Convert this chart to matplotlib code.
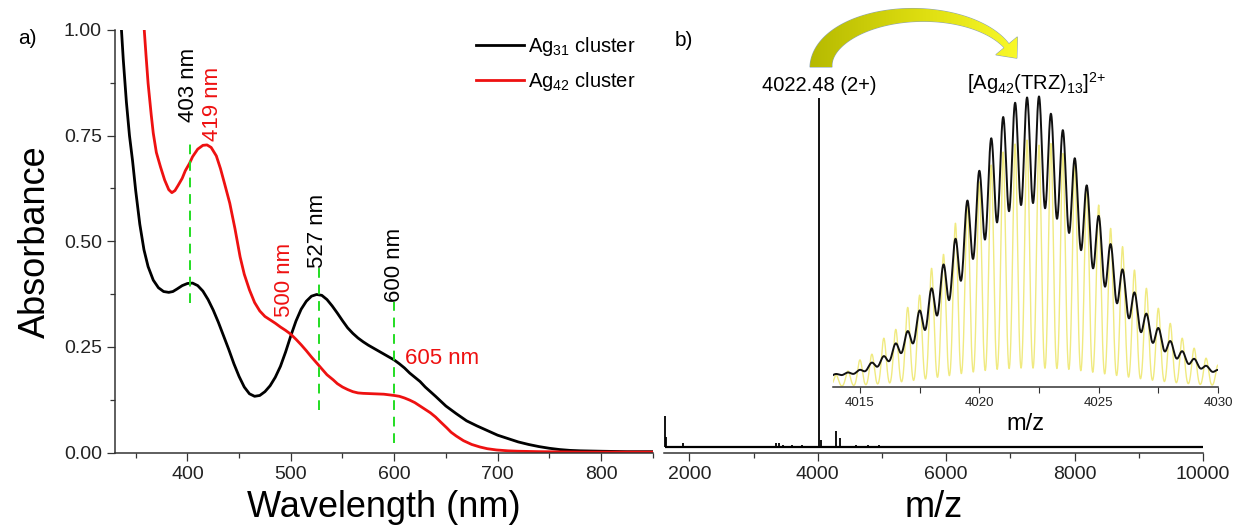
import numpy as np
import matplotlib
matplotlib.use("Agg")
import matplotlib.pyplot as plt
from matplotlib.ticker import MultipleLocator, FormatStrFormatter
from matplotlib.patches import Polygon
from matplotlib.colors import LinearSegmentedColormap

plt.rcParams['font.family'] = ['Liberation Sans', 'DejaVu Sans']
plt.rcParams['mathtext.fontset'] = 'custom'
plt.rcParams['mathtext.rm'] = 'Liberation Sans'
plt.rcParams['mathtext.it'] = 'Liberation Sans:italic'

# UV-vis absorption spectra (wavelength in nm, absorbance)
wl_ag31 = [336, 338, 341, 344, 347, 350, 354, 358, 362, 367, 372, 377, 382, 386,
           390, 395, 400, 405, 410, 415, 420, 425, 430, 435, 440, 445, 450, 455,
           460, 465, 470, 475, 480, 485, 490, 495, 500, 505, 510, 515, 520, 525,
           530, 535, 540, 545, 550, 555, 560, 565, 570, 575, 580, 585, 590, 595,
           600, 605, 610, 615, 620, 625, 630, 640, 650, 660, 670, 680, 690, 700,
           710, 720, 730, 740, 750, 760, 770, 780, 800, 825, 850]
abs_ag31 = [1.01, 0.93, 0.83, 0.75, 0.69, 0.62, 0.54, 0.48, 0.44, 0.408, 0.390,
            0.381, 0.379, 0.381, 0.387, 0.395, 0.400, 0.401, 0.395, 0.382, 0.362,
            0.337, 0.308, 0.276, 0.244, 0.210, 0.180, 0.155, 0.139, 0.133, 0.135,
            0.144, 0.158, 0.178, 0.204, 0.238, 0.276, 0.311, 0.339, 0.358, 0.370,
            0.374, 0.372, 0.362, 0.347, 0.330, 0.312, 0.295, 0.282, 0.271, 0.262,
            0.254, 0.247, 0.240, 0.233, 0.226, 0.219, 0.210, 0.200, 0.188, 0.178,
            0.168, 0.155, 0.133, 0.110, 0.092, 0.075, 0.063, 0.052, 0.041, 0.033,
            0.025, 0.019, 0.014, 0.010, 0.007, 0.005, 0.004, 0.003, 0.002, 0.002]

wl_ag42 = [358, 360, 362, 365, 367, 370, 374, 378, 382, 385, 388, 391, 395, 398,
           402, 405, 410, 415, 419, 423, 428, 432, 436, 441, 446, 451, 455, 460,
           465, 470, 475, 480, 485, 490, 495, 500, 505, 510, 515, 520, 525, 530,
           535, 541, 545, 550, 555, 560, 565, 570, 580, 590, 600, 605, 610, 615,
           620, 625, 630, 635, 640, 645, 651, 655, 660, 667, 675, 683, 690, 699,
           710, 720, 740, 780, 850]
abs_ag42 = [1.01, 0.94, 0.874, 0.80, 0.756, 0.71, 0.676, 0.645, 0.622, 0.615,
            0.620, 0.632, 0.649, 0.667, 0.684, 0.700, 0.718, 0.727, 0.728, 0.722,
            0.702, 0.672, 0.636, 0.590, 0.530, 0.463, 0.422, 0.385, 0.355, 0.335,
            0.322, 0.314, 0.306, 0.297, 0.289, 0.280, 0.268, 0.255, 0.241, 0.226,
            0.212, 0.198, 0.184, 0.172, 0.163, 0.155, 0.149, 0.144, 0.141, 0.140,
            0.139, 0.138, 0.135, 0.133, 0.129, 0.124, 0.118, 0.110, 0.102, 0.094,
            0.084, 0.072, 0.058, 0.048, 0.039, 0.028, 0.019, 0.013, 0.009, 0.006,
            0.004, 0.003, 0.002, 0.001, 0.001]

# marked band positions and the extent of their dashed guide lines
marks_wl = [403, 527, 600]
marks_lo = [0.354, 0.100, 0.022]
marks_hi = [0.733, 0.436, 0.357]

# ESI mass spectrum, relative intensity (sticks on a flat baseline)
ms_base = 0.015
ms_mz = [1622, 1636, 1902, 2400, 2780, 3100, 3350, 3400, 3455, 3600, 3760,
         4022.48, 4045, 4285, 4351, 4600, 4790, 4950, 5200, 6450]
ms_int = [0.103, 0.045, 0.027, 0.019, 0.019, 0.019, 0.027, 0.028, 0.022, 0.022,
          0.020, 1.0, 0.035, 0.061, 0.042, 0.021, 0.021, 0.021, 0.018, 0.017]

# isotope pattern of [Ag42(TRZ)13]2+, peaks every 0.5 m/z
iso_mz = [4014.0 + 0.5 * i for i in range(33)]
iso_exp = [1.4, 1.9, 2.8, 5.3, 7.5, 11.9, 16.1, 23.2, 30.8, 39.0, 47.8, 61.0,
           71.2, 82.4, 89.7, 94.6, 96.4, 96.8, 90.8, 85.2, 75.5, 66.2, 55.7,
           46.0, 37.3, 29.4, 22.1, 17.2, 12.7, 9.2, 6.6, 4.2, 2.8]
iso_sim = [4.2, 5.6, 9.5, 11.5, 17.1, 20.2, 27.9, 32.2, 41.6, 46.5, 57.4, 64.4,
           71.9, 77.8, 82.4, 85.2, 86.6, 84.8, 85.4, 81.9, 77.8, 70.2, 63.8,
           55.6, 49.2, 41.0, 34.6, 27.6, 22.3, 17.1, 13.6, 10.1, 7.7]
exp_offset = 3.15

W, H = 1238, 525
fig = plt.figure(figsize=(W / 100, H / 100), dpi=100)


def px_axes(x0, y0, x1, y1, **kw):
    return fig.add_axes([x0 / W, 1 - y1 / H, (x1 - x0) / W, (y1 - y0) / H], **kw)


def style_spines(ax, sides):
    for s in ['left', 'right', 'top', 'bottom']:
        ax.spines[s].set_visible(s in sides)
        ax.spines[s].set_linewidth(1.1)
        ax.spines[s].set_color('#333333')


# ---- a) UV-vis ----
ax1 = px_axes(115, 30, 652.7, 452.5)
style_spines(ax1, ['left', 'bottom'])
ax1.plot(wl_ag31, abs_ag31, color='black', lw=2.0, label='Ag$_{31}$ cluster')
ax1.plot(wl_ag42, abs_ag42, color='#ee1111', lw=2.0, label='Ag$_{42}$ cluster')
ax1.vlines(marks_wl, marks_lo, marks_hi, colors='#22dd22', linestyles=(0, (5, 3.5)), lw=1.4)
ax1.set_xlim(330, 850)
ax1.set_ylim(0, 1.0)
ax1.xaxis.set_major_locator(MultipleLocator(100))
ax1.xaxis.set_minor_locator(MultipleLocator(50))
ax1.yaxis.set_major_locator(MultipleLocator(0.25))
ax1.yaxis.set_minor_locator(MultipleLocator(0.125))
ax1.yaxis.set_major_formatter(FormatStrFormatter('%.2f'))
ax1.tick_params(which='major', length=6, width=0.9, labelsize=14, color='#333333',
                labelcolor='#222222')
ax1.tick_params(which='minor', length=3.5, width=0.9, color='#333333')
ax1.set_xlabel('Wavelength (nm)', fontsize=26, labelpad=5)
ax1.set_ylabel('Absorbance', fontsize=26, labelpad=8)

txt = dict(fontsize=16, ha='center', va='center')
ax1.text(401, 0.870, '403 nm', rotation=90, color='black', **txt)
ax1.text(424.3, 0.824, '419 nm', rotation=90, color='#ee1111', **txt)
ax1.text(494.4, 0.408, '500 nm', rotation=90, color='#ee1111', **txt)
ax1.text(525.8, 0.524, '527 nm', rotation=90, color='black', **txt)
ax1.text(600.7, 0.444, '600 nm', rotation=90, color='black', **txt)
ax1.text(610.3, 0.222, '605 nm', color='#ee1111', fontsize=16, ha='left', va='center')

ax1.legend(loc='upper left', bbox_to_anchor=(476 / W, 1 - 35 / H),
           bbox_transform=fig.transFigure, frameon=False, fontsize=14.5,
           handlelength=2.4, handletextpad=0.2, labelspacing=0.6,
           borderpad=0, borderaxespad=0)

# ---- b) mass spectrum ----
ax2 = px_axes(663.6, 30, 1203, 452.5)
style_spines(ax2, ['bottom'])
ax2.hlines(ms_base, 1620, 10000, color='black', lw=1.6)
ax2.vlines(ms_mz, ms_base, ms_int, color='black', lw=1.3)
ax2.set_xlim(1600, 10000)
ax2.set_ylim(0, 422.5 / 354.5)
ax2.set_yticks([])
ax2.xaxis.set_major_locator(MultipleLocator(2000))
ax2.xaxis.set_minor_locator(MultipleLocator(1000))
ax2.tick_params(which='major', length=6, width=0.9, labelsize=14, color='#333333',
                labelcolor='#222222')
ax2.tick_params(which='minor', length=3.5, width=0.9, color='#333333')
ax2.set_xlabel('m/z', fontsize=26, labelpad=5)
ax2.text(4022.48, 1.008, '4022.48 (2+)', fontsize=14.5, ha='center', va='bottom')

# inset: experimental vs simulated isotope pattern
ax3 = px_axes(833, 95, 1218, 387)
ax3.patch.set_alpha(0)
style_spines(ax3, ['bottom'])
mz = np.linspace(4013.87, 4030, 2000)
c = np.array(iso_mz)[:, None]
sim = (np.array(iso_sim)[:, None] * np.exp(-(mz - c) ** 2 / (2 * 0.098 ** 2))).sum(0)
exp = exp_offset + (np.array(iso_exp)[:, None] * np.exp(-(mz - c) ** 2 / (2 * 0.165 ** 2))).sum(0)
ax3.plot(mz, sim, color='#f0ea80', lw=1.0)
ax3.plot(mz, exp, color='#111111', lw=1.4)
ax3.set_xlim(4013.87, 4030)
ax3.set_ylim(0, 102.35)
ax3.set_yticks([])
ax3.xaxis.set_major_locator(MultipleLocator(5))
ax3.xaxis.set_minor_locator(MultipleLocator(2.5))
ax3.tick_params(which='major', length=4, width=0.8, labelsize=9.5, color='#333333',
                labelcolor='#222222', pad=3)
ax3.tick_params(which='minor', length=4, width=0.8, color='#333333')
ax3.set_xlabel('m/z', fontsize=17, labelpad=3)
ax3.text(4022.4, 102, '[Ag$_{42}$(TRZ)$_{13}$]$^{2\\!+}$', fontsize=14.5,
         ha='center', va='bottom')

# ---- overlay in pixel units: panel letters and curved arrow ----
ov = fig.add_axes([0, 0, 1, 1], zorder=5)
ov.set_xlim(0, W)
ov.set_ylim(H, 0)
ov.axis('off')
ov.text(27, 39, 'a)', fontsize=15, ha='center', va='center')
ov.text(684, 40, 'b)', fontsize=15, ha='center', va='center')

cx, cy, rx, ry = 918, 67, 97, 52
th = np.radians(np.linspace(180, 24, 80))
px = cx + rx * np.cos(th)
py = cy - ry * np.sin(th)
nx, ny = np.cos(th) / rx, -np.sin(th) / ry
nn = np.hypot(nx, ny)
nx, ny = nx / nn, ny / nn
w = np.linspace(22, 6, th.size) / 2
outer = np.column_stack([px + nx * w, py + ny * w])
inner = np.column_stack([px - nx * w, py - ny * w])
tx, ty = rx * np.sin(th[-1]), ry * np.cos(th[-1])
tn = np.hypot(tx, ty)
tx, ty = tx / tn, ty / tn
ex, ey = px[-1], py[-1]
hw, hl = 14, 16
head = [(ex + nx[-1] * hw, ey + ny[-1] * hw),
        (ex + tx * hl, ey + ty * hl),
        (ex - nx[-1] * hw, ey - ny[-1] * hw)]
verts = np.vstack([outer, head, inner[::-1]])
arrow = Polygon(verts, closed=True, facecolor='none', edgecolor='#8ea4b4', lw=0.8)
ov.add_patch(arrow)
grad = LinearSegmentedColormap.from_list('arr', ['#b4b800', '#dede10', '#ffff30'])
img = ov.imshow(np.linspace(0, 1, 256)[None, :], cmap=grad, aspect='auto',
                extent=[805, 1040, 80, 5], zorder=1)
img.set_clip_path(arrow)
ov.set_xlim(0, W)
ov.set_ylim(H, 0)

fig.savefig('out.png', dpi=100)
